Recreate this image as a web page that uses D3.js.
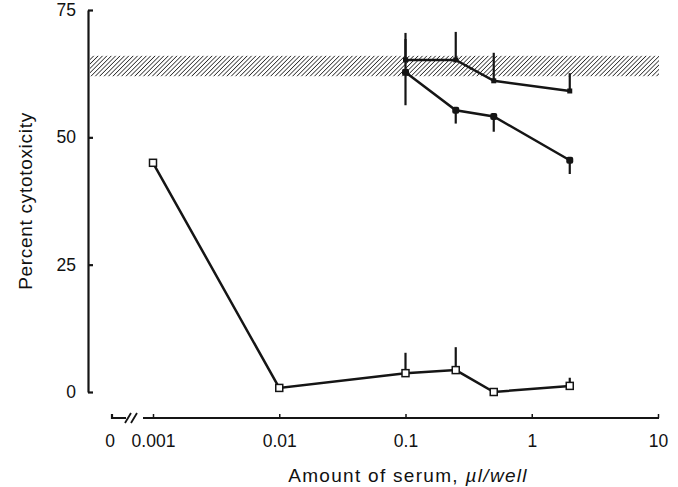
<!DOCTYPE html>
<html>
<head>
<meta charset="utf-8">
<script src="https://cdn.jsdelivr.net/npm/d3@7"></script>
<style>
  body { margin: 0; background: #fff; }
  svg { display: block; }
  text { font-family: "Liberation Sans", Arial, sans-serif; fill: #111; }
</style>
</head>
<body>
<div id="chart"></div>
<script>
// -------------------------------------------------------------------------
// Percent cytotoxicity vs amount of serum (log x axis with a break at 0)
// -------------------------------------------------------------------------

// Open squares series
const doseOpen = [0.001, 0.01, 0.1, 0.25, 0.5, 2];
const valOpen = [45, 0.8, 3.7, 4.3, 0, 1.2];
const errOpen = [0, 0, 4, 4.5, 0, 1.6];

// Filled markers series (error bars go down)
const doseFilled = [0.1, 0.25, 0.5, 2];
const valFilled = [62.8, 55.3, 54.1, 45.5];
const errFilled = [6.5, 2.6, 3, 2.7];

// Upper series (error bars go up)
const doseUpper = [0.1, 0.25, 0.5, 2];
const valUpper = [65.2, 65.2, 61.1, 59.1];
const errUpper = [5.3, 5.5, 5.5, 3.5];

// Hatched reference band
const bandRange = [62, 66];

// Axis ticks
const xTicks = [0.001, 0.01, 0.1, 1, 10];
const xTickLabels = ["0.001", "0.01", "0.1", "1", "10"];
const zeroLabel = "0";
const yTicks = [0, 25, 50, 75];

const width = 678, height = 487;
const ink = "#151515";

const svg = d3.select("#chart")
    .append("svg")
    .attr("width", width)
    .attr("height", height);

// Scales
const x = d3.scaleLog().domain([0.001, 10]).range([153, 658]);
const y = d3.scaleLinear().domain([0, 75]).range([392, 10]);
const axisX = 88, axisY = 418;
const zeroX = 112;

// Hatch pattern
const defs = svg.append("defs");
defs.append("pattern")
    .attr("id", "hatch")
    .attr("patternUnits", "userSpaceOnUse")
    .attr("width", 3.1)
    .attr("height", 10)
    .attr("patternTransform", "rotate(45)")
    .append("line")
    .attr("x1", 0).attr("y1", 0)
    .attr("x2", 0).attr("y2", 10)
    .attr("stroke", "#222")
    .attr("stroke-width", 1.5);

svg.append("rect")
    .attr("x", axisX + 2)
    .attr("y", y(bandRange[1]))
    .attr("width", x(10) + 1 - axisX - 2)
    .attr("height", y(bandRange[0]) - y(bandRange[1]))
    .attr("fill", "url(#hatch)");

// Y axis
const yAxis = svg.append("g")
    .attr("transform", `translate(${axisX},0)`)
    .call(d3.axisLeft(y)
        .tickValues(yTicks)
        .tickSizeInner(-5)
        .tickSizeOuter(0)
        .tickPadding(12));
yAxis.selectAll("path, line").attr("stroke", ink).attr("stroke-width", 2.2);
yAxis.selectAll("text").style("font-size", "17.5px");

// X axis (domain drawn by hand because of the break)
const xAxis = svg.append("g")
    .attr("transform", `translate(0,${axisY})`)
    .call(d3.axisBottom(x)
        .tickValues(xTicks)
        .tickFormat((d, i) => xTickLabels[i])
        .tickSizeInner(-4)
        .tickSizeOuter(0)
        .tickPadding(17));
xAxis.select(".domain").remove();
xAxis.selectAll("line").attr("stroke", ink).attr("stroke-width", 1.5);
xAxis.selectAll("text").style("font-size", "17.5px");

xAxis.append("path")
    .attr("d", `M${x(0.001) - 10},0H${x(10) + 1}`)
    .attr("stroke", ink).attr("stroke-width", 2.2);
xAxis.append("path")
    .attr("d", `M${zeroX},-4V0H${zeroX + 14}`)
    .attr("fill", "none")
    .attr("stroke", ink).attr("stroke-width", 2.2);
xAxis.append("path")
    .attr("d", "M125,5L131,-5M131,5L137,-5")
    .attr("stroke", ink).attr("stroke-width", 1.8);
xAxis.append("text")
    .attr("x", zeroX - 2)
    .attr("y", 17)
    .attr("dy", "0.71em")
    .attr("text-anchor", "middle")
    .style("font-size", "17.5px")
    .text(zeroLabel);

// Axis titles
const xTitle = svg.append("text")
    .attr("x", 408)
    .attr("y", 482)
    .attr("text-anchor", "middle")
    .style("font-size", "19px")
    .style("letter-spacing", "1.3px");
xTitle.append("tspan").text("Amount of serum, ");
xTitle.append("tspan").style("font-style", "italic").text("\u00b5l/well");

svg.append("text")
    .attr("transform", "translate(32,201) rotate(-90)")
    .attr("text-anchor", "middle")
    .style("font-size", "19px")
    .style("letter-spacing", "0.7px")
    .text("Percent cytotoxicity");

// Series drawing helper
const line = d3.line().x(d => x(d[0])).y(d => y(d[1]));

function drawSeries(doses, vals, errs, dir) {
    const pts = doses.map((d, i) => [d, vals[i], errs[i]]);
    const g = svg.append("g");
    g.selectAll("line.err")
        .data(pts.filter(p => p[2] > 0))
        .join("line")
        .attr("class", "err")
        .attr("x1", d => x(d[0])).attr("x2", d => x(d[0]))
        .attr("y1", d => y(d[1]))
        .attr("y2", d => y(d[1] + dir * d[2]))
        .attr("stroke", ink).attr("stroke-width", 2.2);
    g.append("path")
        .datum(pts)
        .attr("d", line)
        .attr("fill", "none")
        .attr("stroke", ink)
        .attr("stroke-width", 2.5);
    return { g, pts };
}

// Upper series
const up = drawSeries(doseUpper, valUpper, errUpper, 1);
up.g.selectAll("rect")
    .data(up.pts)
    .join("rect")
    .attr("x", d => x(d[0]) - 2.5).attr("y", d => y(d[1]) - 2.5)
    .attr("width", 5).attr("height", 5)
    .attr("fill", ink);

// Filled series, symmetric error bar on first point
const fil = drawSeries(doseFilled, valFilled, errFilled, -1);
fil.g.append("line")
    .attr("x1", x(doseFilled[0])).attr("x2", x(doseFilled[0]))
    .attr("y1", y(valFilled[0])).attr("y2", y(valFilled[0] + errFilled[0]))
    .attr("stroke", ink).attr("stroke-width", 2.2);
fil.g.selectAll("rect")
    .data(fil.pts)
    .join("rect")
    .attr("x", d => x(d[0]) - 3.5).attr("y", d => y(d[1]) - 3.5)
    .attr("width", 7).attr("height", 7)
    .attr("rx", 2)
    .attr("fill", ink);

// Open squares series
const op = drawSeries(doseOpen, valOpen, errOpen, 1);
op.g.selectAll("rect")
    .data(op.pts)
    .join("rect")
    .attr("x", d => x(d[0]) - 3.5).attr("y", d => y(d[1]) - 3.5)
    .attr("width", 7).attr("height", 7)
    .attr("fill", "#fff")
    .attr("stroke", ink)
    .attr("stroke-width", 1.5);
</script>
</body>
</html>
